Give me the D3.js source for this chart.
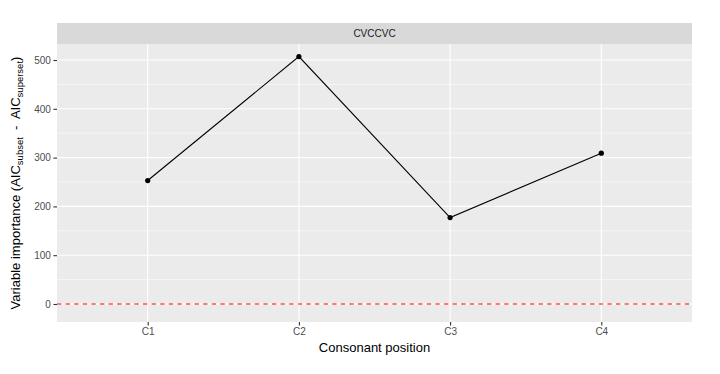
<!DOCTYPE html>
<html>
<head>
<meta charset="utf-8">
<script src="https://cdn.jsdelivr.net/npm/d3@7"></script>
<style>
  body { margin: 0; background: #fff; }
  svg { font-family: "Liberation Sans", Arial, sans-serif; display: block; }
</style>
</head>
<body>
<div id="chart"></div>
<script>
// data
const facetLabel = 'CVCCVC';
const positions = ['C1', 'C2', 'C3', 'C4'];
const importance = [253, 507, 177, 309];
const yTicks = [0, 100, 200, 300, 400, 500];
const yMinorTicks = [50, 150, 250, 350, 450];
const refLine = [0];

const width = 720;
const height = 374;
const panel = {left: 57, right: 692, top: 44, bottom: 322};
const strip = {top: 23, bottom: 44};

const svg = d3.select('#chart').append('svg')
  .attr('width', width)
  .attr('height', height);

// discrete x scale with ggplot style expansion (0.6 units each side)
const x = d3.scaleLinear()
  .domain([1 - 0.6, positions.length + 0.6])
  .range([panel.left, panel.right]);

const y = d3.scaleLinear()
  .domain([-36.9, 532.8])
  .range([panel.bottom, panel.top]);

// strip
svg.append('rect')
  .attr('x', panel.left)
  .attr('y', strip.top)
  .attr('width', panel.right - panel.left)
  .attr('height', strip.bottom - strip.top)
  .attr('fill', '#d9d9d9');

svg.append('text')
  .attr('x', (panel.left + panel.right) / 2)
  .attr('y', (strip.top + strip.bottom) / 2)
  .attr('dy', '0.35em')
  .attr('text-anchor', 'middle')
  .attr('font-size', 10)
  .attr('fill', '#1a1a1a')
  .text(facetLabel);

// panel background
svg.append('rect')
  .attr('x', panel.left)
  .attr('y', panel.top)
  .attr('width', panel.right - panel.left)
  .attr('height', panel.bottom - panel.top)
  .attr('fill', '#ebebeb');

const grid = svg.append('g').attr('stroke', '#fff');

grid.selectAll('line.minor')
  .data(yMinorTicks)
  .join('line')
  .attr('class', 'minor')
  .attr('x1', panel.left).attr('x2', panel.right)
  .attr('y1', d => y(d)).attr('y2', d => y(d))
  .attr('stroke-width', 0.55);

grid.selectAll('line.major-y')
  .data(yTicks)
  .join('line')
  .attr('class', 'major-y')
  .attr('x1', panel.left).attr('x2', panel.right)
  .attr('y1', d => y(d)).attr('y2', d => y(d))
  .attr('stroke-width', 1.1);

grid.selectAll('line.major-x')
  .data(positions)
  .join('line')
  .attr('class', 'major-x')
  .attr('x1', (d, i) => x(i + 1)).attr('x2', (d, i) => x(i + 1))
  .attr('y1', panel.top).attr('y2', panel.bottom)
  .attr('stroke-width', 1.1);

// reference line
svg.selectAll('line.ref')
  .data(refLine)
  .join('line')
  .attr('class', 'ref')
  .attr('x1', panel.left).attr('x2', panel.right)
  .attr('y1', d => y(d)).attr('y2', d => y(d))
  .attr('stroke', '#ff0000')
  .attr('stroke-width', 1.1)
  .attr('stroke-dasharray', '4.3,4.3');

// line + points
const line = d3.line()
  .x((d, i) => x(i + 1))
  .y(d => y(d));

svg.append('path')
  .datum(importance)
  .attr('d', line)
  .attr('fill', 'none')
  .attr('stroke', '#000')
  .attr('stroke-width', 1.1);

svg.selectAll('circle.pt')
  .data(importance)
  .join('circle')
  .attr('class', 'pt')
  .attr('cx', (d, i) => x(i + 1))
  .attr('cy', d => y(d))
  .attr('r', 2.6)
  .attr('fill', '#000');

// axes
const yAxis = svg.append('g')
  .attr('transform', `translate(${panel.left},0)`)
  .call(d3.axisLeft(y).tickValues(yTicks).tickSize(3.6).tickPadding(2.6));

const xAxis = svg.append('g')
  .attr('transform', `translate(0,${panel.bottom})`)
  .call(d3.axisBottom(x).tickValues(positions.map((d, i) => i + 1))
    .tickFormat((d, i) => positions[i]).tickSize(3.6).tickPadding(2));

[yAxis, xAxis].forEach(ax => {
  ax.select('.domain').remove();
  ax.selectAll('.tick line').attr('stroke', '#333').attr('stroke-width', 1.1);
  ax.selectAll('.tick text')
    .attr('fill', '#4d4d4d')
    .attr('font-size', 10)
    .attr('font-family', '"Liberation Sans", Arial, sans-serif');
});

// axis titles
svg.append('text')
  .attr('x', (panel.left + panel.right) / 2)
  .attr('y', 351.5)
  .attr('text-anchor', 'middle')
  .attr('font-size', 13)
  .attr('fill', '#000')
  .text('Consonant position');

const yTitle = svg.append('text')
  .attr('transform', `translate(20,${(panel.top + panel.bottom) / 2}) rotate(-90)`)
  .attr('text-anchor', 'middle')
  .attr('font-size', 13)
  .attr('fill', '#000');

yTitle.append('tspan').text('Variable importance (AIC');
yTitle.append('tspan').attr('font-size', 9.5).attr('dy', 3).text('subset');
yTitle.append('tspan').attr('dy', -3).text('\u00a0 -\u00a0 AIC');
yTitle.append('tspan').attr('font-size', 9.5).attr('dy', 3).text('superset');
yTitle.append('tspan').attr('dy', -3).text(')');
</script>
</body>
</html>
